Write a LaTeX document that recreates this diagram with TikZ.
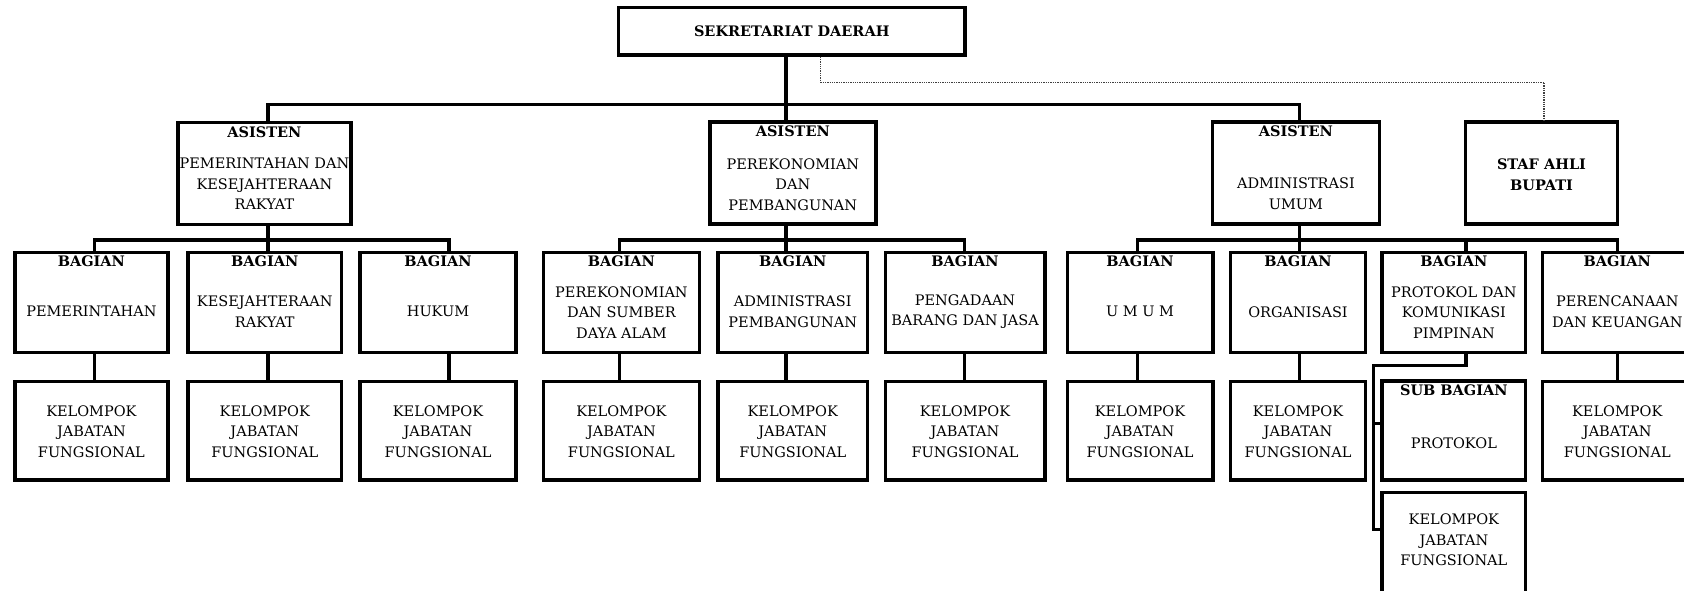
\documentclass[tikz,border=0pt]{standalone}
\usepackage{fontspec}
\setmainfont{DejaVu Serif}
\usetikzlibrary{calc}
\begin{document}
\begin{tikzpicture}[x=1pt,y=-1pt,
  box/.style={draw, line width=3.4pt, inner sep=0pt},
  conn/.style={line width=3.4pt},
  dsh/.style={line width=1.3pt, black!75, dash pattern=on 1.3pt off 1pt},
  txt/.style={align=center, inner sep=0pt, font=\fontsize{14.5}{20.5}\selectfont},
  ttl/.style={align=center, inner sep=0pt, font=\fontsize{14.5}{20.5}\selectfont\bfseries}]
\useasboundingbox (0,0) rectangle (1684,591);
\clip (0,0) rectangle (1684,591);
% column coordinates
\coordinate (x1) at (94.6,0);
\coordinate (x2) at (267.8,0);
\coordinate (x3) at (449,0);
\coordinate (x4) at (619.3,0);
\coordinate (x5) at (786,0);
\coordinate (x6) at (964.5,0);
\coordinate (x7) at (1137.6,0);
\coordinate (x8) at (1299.7,0);
\coordinate (x9) at (1466,0);
\coordinate (x10) at (1617.2,0);
\coordinate (xD) at (820.7,0);
\coordinate (xE) at (1544,0);
\coordinate (xP) at (1373.3,0);
\coordinate (yS) at (0,423.3);
\coordinate (yK) at (0,529.3);
% top
\node[box, minimum width=346.5pt, minimum height=47.7pt] (sek) at (791.75,31.15) {};
\node[ttl] (sekt) at (sek.center) {SEKRETARIAT DAERAH};
% asisten row
\node[box, minimum width=173.2pt, minimum height=101.6pt] (a1) at (264.4,173.5) {};
\node[box, minimum width=166pt, minimum height=102pt] (a2) at (792.8,173) {};
\node[box, minimum width=167.2pt, minimum height=102pt] (a3) at (1295.9,173) {};
\node[box, minimum width=152pt, minimum height=102pt] (st) at (1541.5,173) {};
\node[ttl] (a1t) at ([yshift=-11pt]a1.north) {ASISTEN};
\node[ttl] (a2t) at ([yshift=-11pt]a2.north) {ASISTEN};
\node[ttl] (a3t) at ([yshift=-11pt]a3.north) {ASISTEN};
\node[txt] (a1b) at ([yshift=-10.5pt]a1.center) {PEMERINTAHAN DAN\\KESEJAHTERAAN\\RAKYAT};
\node[txt] (a2b) at ([yshift=-11.5pt]a2.center) {PEREKONOMIAN\\DAN\\PEMBANGUNAN};
\node[txt] (a3b) at ([yshift=-20.5pt]a3.center) {ADMINISTRASI\\UMUM};
\node[ttl] (stt) at ([yshift=-1.5pt]st.center) {STAF AHLI\\BUPATI};
% bagian row
\foreach \n/\cx/\w in {1/91.4/152.8, 2/264.8/153.6, 3/438/156, 4/621.4/156.4, 5/792.75/149.3, 6/965/159.6, 7/1140/145.6, 8/1298/135.4, 9/1453.85/143.7, 10/1617.25/149.5}{
  \node[box, minimum width=\w pt, minimum height=100pt] (b\n) at (\cx,302.3) {};
  \node[ttl] (b\n t) at ([yshift=-11pt]b\n.north) {BAGIAN};
}
\node[txt] (b1b) at ([yshift=-9.5pt]b1.center) {PEMERINTAHAN};
\node[txt] (b2b) at ([yshift=-9.5pt]b2.center) {KESEJAHTERAAN\\RAKYAT};
\node[txt] (b3b) at ([yshift=-9.5pt]b3.center) {HUKUM};
\node[txt] (b4b) at ([yshift=-10pt]b4.center) {PEREKONOMIAN\\DAN SUMBER\\DAYA ALAM};
\node[txt] (b5b) at ([yshift=-9.5pt]b5.center) {ADMINISTRASI\\PEMBANGUNAN};
\node[txt] (b6b) at ([yshift=-9.5pt]b6.center) {PENGADAAN\\BARANG DAN JASA};
\node[txt] (b7b) at ([yshift=-9.5pt]b7.center) {U M U M};
\node[txt] (b8b) at ([yshift=-9.5pt]b8.center) {ORGANISASI};
\node[txt] (b9b) at ([yshift=-10pt]b9.center) {PROTOKOL DAN\\KOMUNIKASI\\PIMPINAN};
\node[txt] (b10b) at ([yshift=-9.5pt]b10.center) {PERENCANAAN\\DAN KEUANGAN};
% kelompok row
\foreach \n/\cx/\w in {1/91.4/152.8, 2/264.8/153.6, 3/438/156, 4/621.4/156.4, 5/792.75/149.3, 6/965/159.6, 7/1140/145.6, 8/1298/135.4, 10/1617.25/149.5}{
  \node[box, minimum width=\w pt, minimum height=98.3pt] (k\n) at (\cx,430.85) {};
  \node[txt] (k\n t) at ([yshift=-0.8pt]k\n.center) {KELOMPOK\\JABATAN\\FUNGSIONAL};
}
\node[box, minimum width=143.7pt, minimum height=99pt] (s9) at (1453.85,430.5) {};
\node[ttl] (s9t) at ([yshift=-11pt]s9.north) {SUB BAGIAN};
\node[txt] (s9b) at ([yshift=-12.5pt]s9.center) {PROTOKOL};
\node[box, minimum width=143.7pt, minimum height=108pt] (k9) at (1453.85,546.3) {};
\node[txt] (k9t) at ([yshift=-49.4pt]k9.north) {KELOMPOK\\JABATAN\\FUNGSIONAL};
% connectors level 1
\draw[conn] (sek.south -| x5) -- (a2.north -| x5);
\draw[conn] (a1.north -| x2) -- ++(0,-16.2) -| (a3.north -| x8);
\draw[dsh] (sek.south -| xD) -- ++(0,25.7) -| (st.north -| xE);
% connectors level 2
\draw[conn] (a1.south -| x2) -- (b2.north -| x2);
\draw[conn] (b1.north -| x1) -- ++(0,-10.6) -| (b3.north -| x3);
\draw[conn] (a2.south -| x5) -- (b5.north -| x5);
\draw[conn] (b4.north -| x4) -- ++(0,-10.6) -| (b6.north -| x6);
\draw[conn] (a3.south -| x8) -- (b8.north -| x8);
\draw[conn] (b7.north -| x7) -- ++(0,-10.6) -| (b10.north -| x10);
\draw[conn] (b9.north -| x9) -- ++(0,-10.6);
% connectors level 3
\foreach \n in {1,2,3,4,5,6,7,8,10}{
  \draw[conn] (b\n.south -| x\n) -- (k\n.north -| x\n);
}
\draw[conn] (b9.south -| x9) -- ++(0,11.7) -| (xP |- yK) -- (k9.west |- yK);
\draw[conn] (xP |- yS) -- (s9.west |- yS);
\end{tikzpicture}
\end{document}
